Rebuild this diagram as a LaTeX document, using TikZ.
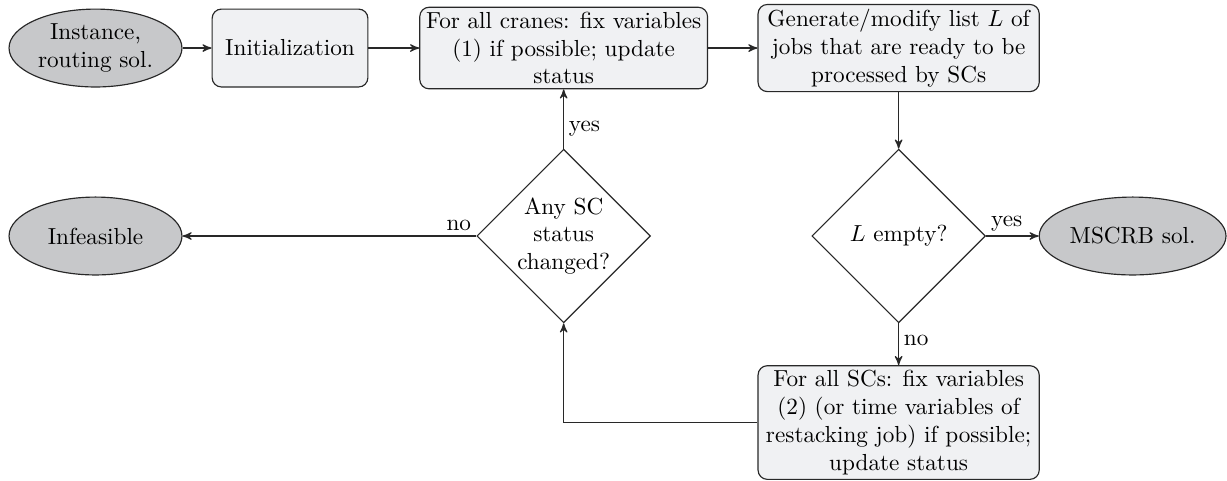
\documentclass[tikz,border=0pt]{standalone}
\usepackage{amsmath}
\usepackage{tikz}
\usetikzlibrary{positioning,arrows}
\usetikzlibrary{shapes.geometric}
\definecolor{termgray}{RGB}{199,200,202}
\definecolor{boxgray}{RGB}{240,241,243}
\definecolor{linegray}{RGB}{40,40,40}
\tikzset{
  fcnode/.style = {align=center, inner sep=0pt, text centered,
    draw=linegray, line width=0.5pt},
  fc_t/.style = {fcnode, ellipse, fill=termgray,
    minimum height=1.18cm},% terminal, ellipse
  fc_b/.style = {fcnode, rectangle, rounded corners=4pt, fill=boxgray,
    inner sep=2pt},% process step
  fc_d/.style = {fcnode, diamond, aspect=1,
    minimum width=2.63cm, minimum height=2.63cm},% decision
  fc_l/.style = {inner sep=2pt}% edge label
}

\begin{document}
\begin{tikzpicture}[->,>=stealth',line width=0.5pt,draw=linegray]
\useasboundingbox (0,0) rectangle (18.59,7.273);
% top row
\node [fc_t, minimum width=2.62cm] (start) at (1.447,6.545) {Instance,\\ routing sol.};
\node [fc_b, minimum width=2.36cm, minimum height=1.18cm] (init) at (4.394,6.545) {Initialization};
\node [fc_b, minimum width=4.36cm] (cranes) at (8.54,6.545)
  {For all cranes: fix variables\\ (1) if possible; update\\ status};
\node [fc_b, minimum width=4.26cm] (gen) at (13.615,6.545)
  {Generate/modify list $L$ of\\ jobs that are ready to be\\ processed by SCs};
% middle row
\node [fc_t, minimum width=2.62cm] (infeas) at (1.447,3.697) {Infeasible};
\node [fc_d] (anysc) at (8.54,3.697) {Any SC\\ status\\ changed?};
\node [fc_d] (empty) at (13.615,3.697) {$L$ empty?};
\node [fc_t, minimum width=2.83cm] (mscrb) at (17.16,3.697) {MSCRB sol.};
% bottom row
\node [fc_b, minimum width=4.26cm] (scs) at (13.615,0.871)
  {For all SCs: fix variables\\ (2) (or time variables of\\ restacking job) if possible;\\ update status};

\draw (start) -- (init);
\draw (init) -- (cranes);
\draw (cranes) -- (gen);
\draw (gen) -- (empty);
\draw (empty.east) -- node [fc_l, pos=0, above right] {yes} (mscrb);
\draw (empty.south) -- node [fc_l, pos=0.15, below right] {no} (scs);
\draw (scs.west) -| (anysc.south);
\draw (anysc.north) -- node [fc_l, pos=0.33, right] {yes} (cranes);
\draw (anysc.west) -- node [fc_l, pos=0, above left] {no} (infeas);
\end{tikzpicture}
\end{document}
